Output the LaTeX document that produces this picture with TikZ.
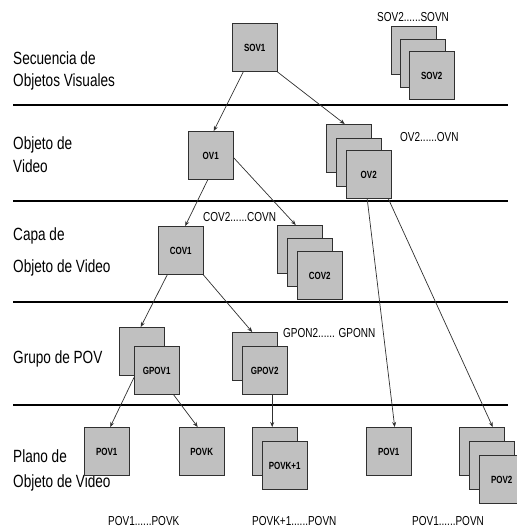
\documentclass[tikz,border=0pt]{standalone}
\usepackage{fontspec}
\setmainfont{Liberation Sans}
\usetikzlibrary{arrows.meta}
\definecolor{boxgray}{HTML}{C0C0C0}
\definecolor{edgegray}{HTML}{303030}
% tall, narrow lettering
\newcommand{\tallt}[1]{\scalebox{1}[1.3]{#1}}

\begin{document}
\begin{tikzpicture}[x=1pt,y=-1pt,
  box/.style={draw=edgegray, fill=boxgray, line width=0.9pt,
    minimum width=44.5pt, minimum height=48pt, inner sep=0pt,
    anchor=north west, font=\bfseries\fontsize{8}{9}\selectfont},
  level/.style={anchor=base west, inner sep=0pt, font=\fontsize{13.6}{16}\selectfont},
  note/.style={anchor=base west, inner sep=0pt, font=\fontsize{10}{12}\selectfont},
  link/.style={draw=edgegray, line width=0.7pt, -{Stealth[length=5pt,width=4pt]}},
  band/.style={draw=black, line width=1.1pt}
]
\useasboundingbox (0,0) rectangle (516,529);

% band separators
\draw[band] (13,105) -- (508,105);
\draw[band] (13,201) -- (508,201);
\draw[band] (13,302) -- (508,302);
\draw[band] (13,405) -- (508,405);

% level names
\node[level] (l1a) at (13,65) {\tallt{Secuencia de}};
\node[level] (l1b) at (13,87) {\tallt{Objetos Visuales}};
\node[level] (l2a) at (13,150) {\tallt{Objeto de}};
\node[level] (l2b) at (13,173) {\tallt{Video}};
\node[level] (l3a) at (13,240) {\tallt{Capa de}};
\node[level] (l3b) at (13,272) {\tallt{Objeto de Video}};
\node[level] (l4a) at (13,363) {\tallt{Grupo de POV}};
\node[level] (l5a) at (13,462) {\tallt{Plano de}};
\node[level] (l5b) at (13,487) {\tallt{Objeto de Video}};

% range labels
\node[note] (n1) at (377,22) {\tallt{SOV2......SOVN}};
\node[note] (n2) at (400,142) {\tallt{OV2......OVN}};
\node[note] (n3) at (203,222) {\tallt{COV2......COVN}};
\node[note] (n4) at (283,337) {\tallt{GPON2...... GPONN}};
\node[note] (n5) at (108,525.5) {\tallt{POV1......POVK}};
\node[note] (n6) at (252,525.5) {\tallt{POVK+1......POVN}};
\node[note] (n7) at (412,525.5) {\tallt{POV1......POVN}};

% sequence level
\node[box] (sov1) at (232,23) {\tallt{SOV1}};
\node[box] (sovA) at (391,26) {};
\node[box] (sovB) at (400,39) {};
\node[box] (sov2) at (409,51) {\tallt{SOV2}};

% video object level
\node[box] (ov1) at (188,131) {\tallt{OV1}};
\node[box] (ovA) at (326,124) {};
\node[box] (ovB) at (336,138) {};
\node[box] (ov2) at (346,150) {\tallt{OV2}};

% layer level
\node[box] (cov1) at (158,226) {\tallt{COV1}};
\node[box] (covA) at (277,225) {};
\node[box] (covB) at (287,238) {};
\node[box] (cov2) at (297,251) {\tallt{COV2}};

% group level
\node[box] (gpovA) at (119,327) {};
\node[box] (gpov1) at (134,346) {\tallt{GPOV1}};
\node[box] (gpovB) at (232,332) {};
\node[box] (gpov2) at (242,346) {\tallt{GPOV2}};

% plane level
\node[box] (pov1) at (84,427) {\tallt{POV1}};
\node[box] (povk) at (179,427) {\tallt{POVK}};
\node[box] (povkA) at (252,427) {};
\node[box] (povk1) at (262,441) {\tallt{POVK+1}};
\node[box] (povr) at (366,427) {\tallt{POV1}};
\node[box] (povA) at (459,427) {};
\node[box] (povB) at (469,441) {};
\node[box] (pov2) at (479,455) {\tallt{POV2}};

% connectors
\draw[link] ([xshift=-11.5pt]sov1.south) -- ([xshift=3pt]ov1.north);
\draw[link] (sov1.south east) -- ([xshift=-4pt]ovA.north);
\draw[link] ([xshift=-3pt]ov1.south) -- ([xshift=4.5pt]cov1.north);
\draw[link] ([yshift=-2pt]ov1.east) -- ([xshift=-4pt]covA.north);
\draw[link] ([xshift=-1.5pt]ov2.south) -- ([xshift=6pt]povr.north);
\draw[link] ([xshift=-3pt]ov2.south east) -- ([xshift=11pt]povA.north);
\draw[link] ([xshift=-13.5pt]cov1.south) -- ([xshift=-1pt]gpovA.north);
\draw[link] (cov1.south east) -- ([xshift=-2.5pt]gpovB.north);
\draw[link] ([yshift=-7pt]gpov1.west) -- ([xshift=3.5pt]pov1.north);
\draw[link] ([xshift=17pt]gpov1.south) -- ([xshift=-4pt]povk.north);
\draw[link] ([xshift=7.5pt]gpov2.south) -- ([xshift=-2.5pt]povkA.north);
\end{tikzpicture}
\end{document}
